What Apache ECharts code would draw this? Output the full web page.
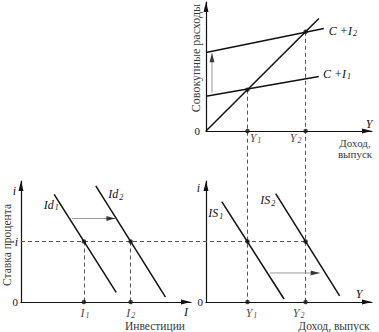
<!DOCTYPE html>
<html><head><meta charset="utf-8">
<script src="https://cdn.jsdelivr.net/npm/echarts@6/dist/echarts.min.js"></script>
<style>html,body{margin:0;padding:0;background:#fff}#c{width:379px;height:332px}</style>
</head><body><div id="c"></div>
<script>
// ---------- Top panel: aggregate expenditure (Keynesian cross) ----------
const incomeLevels = [25, 60];              // Y1, Y2
const incomeTickLabels = ['Y1', 'Y2'];
const expenditureAtEq = [25, 60];           // expenditure at equilibrium
const line45 = [[0, 0], [68, 68]];
const ciLow = [[0, 21], [68, 33]];
const ciHigh = [[0, 47.5], [71, 62]];
const ciLabels = ['C +I1', 'C +I2'];
const topShift = [[3.6, 23], [3.6, 47]];
// ---------- Bottom-left panel: investment demand ----------
const rateLevel = 50;                        // i
const investLevels = [37, 64.5];             // I1, I2
const investTickLabels = ['I1', 'I2'];
const id1 = [[19.5, 89], [56, 8]];
const id2 = [[44, 96], [85, 4]];
const idLabels = ['Id1', 'Id2'];
const invShift = [[30, 69], [55.5, 69]];
// ---------- Bottom-right panel: IS curve ----------
const is1 = [[9.5, 83], [47, 2.5]];
const is2 = [[42, 89.5], [80.5, 5]];
const isLabels = ['IS1', 'IS2'];
const isShift = [[38.5, 24], [68.5, 24]];

const SERIF = "'Liberation Serif','DejaVu Serif',serif";
const INK = '#111';
const TXT = '#3a3a3a';
const DASH = {color: '#555', width: 1, type: [4, 3], opacity: 1};
function sub(t) { return '{v|' + t.slice(0, -1) + '}{s|' + t.slice(-1) + '}'; }
const RICH = {
  v: {fontFamily: SERIF, fontStyle: 'italic', fontSize: 12, color: INK, verticalAlign: 'top'},
  s: {fontFamily: SERIF, fontStyle: 'italic', fontSize: 8, color: INK, verticalAlign: 'top', padding: [5, 0, 0, 1]},
  z: {fontFamily: SERIF, fontSize: 11, color: INK}
};
const AXLINE = {show: true, onZero: false, symbol: ['none', 'triangle'], symbolSize: [5, 10], symbolOffset: [0, -5],
  lineStyle: {color: INK, width: 1.2}};

function xAx(g, name, gap, nts) {
  return {gridIndex: g, type: 'value', min: 0, max: 100, axisLine: AXLINE, axisTick: {show: false},
    axisLabel: {show: false}, splitLine: {show: false}, name: name, nameLocation: 'end', nameGap: gap,
    nameTextStyle: Object.assign({fontFamily: SERIF, fontStyle: 'italic', fontSize: 12, color: INK, align: 'center'}, nts)};
}
function yAx(g, max, name, gap, pad, labels, margin) {
  return {gridIndex: g, type: 'value', min: 0, max: max, axisLine: AXLINE, axisTick: {show: false},
    splitLine: {show: false}, name: name, nameLocation: 'end', nameGap: gap,
    nameTextStyle: {fontFamily: SERIF, fontStyle: 'italic', fontSize: 12, color: INK, align: 'right', verticalAlign: 'middle', padding: [0, pad, 0, 0]},
    axisLabel: {show: true, customValues: labels.map(l => l[0]), margin: margin, rich: RICH,
      formatter: v => { const l = labels.find(q => q[0] === v); return l ? l[1] : ''; }}};
}
function curve(g, data, label, off) {
  return {type: 'line', xAxisIndex: g, yAxisIndex: g, data: data, symbol: 'circle', symbolSize: 0, showSymbol: true,
    lineStyle: {color: INK, width: 1.5}, itemStyle: {color: INK}, z: 3,
    label: label ? {show: true, position: 'inside', offset: off, rich: RICH,
      formatter: p => p.dataIndex === 0 ? sub(label) : ''} : {show: false}};
}
// dashed guide segments (lines series, allowed to run across panels)
function guides(g, segs) {
  return {type: 'lines', coordinateSystem: 'cartesian2d', xAxisIndex: g, yAxisIndex: g, clip: false, silent: true,
    data: segs.map(s => ({coords: s})), lineStyle: DASH, symbol: 'none', z: 1};
}
function dots(g, pts, labels, offs) {
  return {type: 'scatter', xAxisIndex: g, yAxisIndex: g, symbolSize: 4.5, itemStyle: {color: INK}, z: 5,
    data: pts.map((p, k) => labels && labels[k] ? {value: p, label: {show: true, position: 'inside', offset: offs[k], rich: RICH, formatter: sub(labels[k])}} : {value: p})};
}
function arrow(g, pts, dir) {
  const head = 'path://M5,0L10,20L0,20Z';
  const off = dir === 'up' ? [0, 4.5] : [-4.5, 0];
  return [
    {type: 'line', xAxisIndex: g, yAxisIndex: g, data: pts, symbol: 'none', lineStyle: {color: '#9a9a9a', width: 1}, z: 2},
    {type: 'scatter', xAxisIndex: g, yAxisIndex: g, data: [pts[pts.length - 1]], symbol: head, symbolSize: [5, 9],
      symbolRotate: dir === 'up' ? 0 : -90, symbolOffset: off, itemStyle: {color: INK}, z: 4}
  ];
}
function txt(x, y, text, size, rot) {
  return {type: 'text', x: x, y: y, rotation: rot ? Math.PI / 2 : 0, silent: true,
    style: {text: text, fontFamily: SERIF, fontSize: size, lineHeight: size, fill: TXT, align: 'center', verticalAlign: 'middle'}};
}

function buildOption(conn) {
  const series = [
    // top panel
    curve(0, line45),
    Object.assign(curve(0, ciLow), {endLabel: {show: true, formatter: sub(ciLabels[0]), distance: 4, offset: [0, -2], rich: RICH}}),
    Object.assign(curve(0, ciHigh), {endLabel: {show: true, formatter: sub(ciLabels[1]), distance: 5, offset: [0, 3], rich: RICH}}),
    ...arrow(0, topShift, 'up'),
    dots(0, incomeLevels.map((y, k) => [y, expenditureAtEq[k]])),
    dots(0, incomeLevels.map(y => [y, 0]), incomeTickLabels, [[8, 7], [-10, 7]]),
    // bottom-left panel
    curve(1, id1, idLabels[0], [-3, 11]),
    curve(1, id2, idLabels[1], [20, 9]),
    guides(1, investLevels.map(x => [[x, rateLevel], [x, 0]])),
    ...arrow(1, invShift, 'right'),
    dots(1, investLevels.map(x => [x, rateLevel])),
    dots(1, investLevels.map(x => [x, 0]), investTickLabels, [[1, 11], [0, 11]]),
    // bottom-right panel
    curve(2, is1, isLabels[0], [-6, 12]),
    curve(2, is2, isLabels[1], [-8, 7]),
    ...arrow(2, isShift, 'right'),
    dots(2, incomeLevels.map(y => [y, rateLevel])),
    dots(2, incomeLevels.map(y => [y, 0]), incomeTickLabels, [[4, 11], [-7, 11]])
  ];
  if (conn) {
    series.push(guides(0, conn.vertical));
    series.push(guides(1, [conn.horizontal]));
  }
  return {
    animation: false,
    grid: [
      {left: 206, right: 7, top: 2, bottom: 201},
      {left: 21, right: 188, top: 181, bottom: 30},
      {left: 206, right: 7, top: 181, bottom: 30}
    ],
    xAxis: [
      xAx(0, 'Y', -3, {verticalAlign: 'bottom', padding: [0, 0, 1, 0]}),
      xAx(1, 'I', -5, {verticalAlign: 'top', padding: [4, 0, 0, 0]}),
      xAx(2, 'Y', -13, {verticalAlign: 'bottom', padding: [0, 0, 2, 0]})
    ],
    yAxis: [
      yAx(0, 78, '', 0, 0, [[0, '{z|0}']], 6),
      yAx(1, 100, 'i', -10, 5, [[0, '{z|0}'], [rateLevel, '{v|i}']], 3),
      yAx(2, 100, 'i', -7, 6, [[0, '{z|0}']], 3)
    ],
    graphic: [
      txt(196, 58, 'Совокупные расходы', 12, true),
      txt(7, 245, 'Ставка процента', 11.5, true),
      txt(355, 148, 'Доход,\nвыпуск', 11, false),
      txt(155, 326, 'Инвестиции', 11.5, false),
      txt(334, 326, 'Доход, выпуск', 11.5, false)
    ],
    series: series
  };
}

const chart = echarts.init(document.getElementById('c'), null, {renderer: 'svg', width: 379, height: 332});
chart.setOption(buildOption(null));
// connectors between panels, converted through the panels' own scales
const vertical = incomeLevels.map((y, k) => {
  const px = chart.convertToPixel({gridIndex: 2}, [y, 0]);
  const v = chart.convertFromPixel({gridIndex: 0}, px);
  return [[y, expenditureAtEq[k]], [y, v[1]]];
});
const rightPx = chart.convertToPixel({gridIndex: 2}, [incomeLevels[1], rateLevel]);
const rightV = chart.convertFromPixel({gridIndex: 1}, rightPx);
const horizontal = [[0, rateLevel], [rightV[0], rateLevel]];
chart.setOption(buildOption({vertical: vertical, horizontal: horizontal}), true);
</script>
</body></html>
